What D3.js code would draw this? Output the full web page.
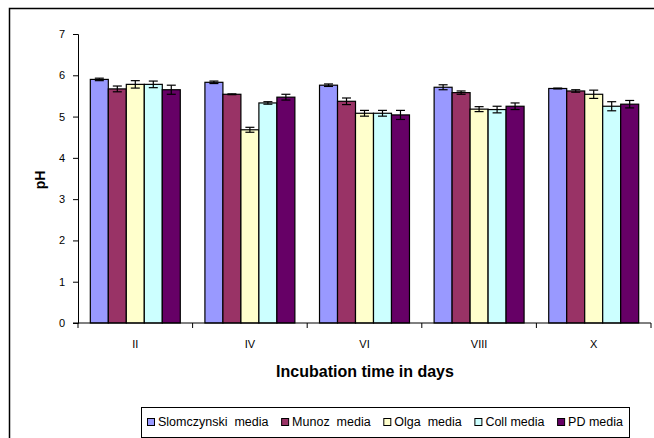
<!DOCTYPE html>
<html><head><meta charset="utf-8">
<script src="https://cdn.jsdelivr.net/npm/d3@7"></script>
<style>
body{margin:0;background:#fff;}
text{font-family:"Liberation Sans",Arial,sans-serif;fill:#000;}
</style></head>
<body><svg id="c" width="654" height="438"></svg>
<script>
const categories = ["II","IV","VI","VIII","X"];
const seriesNames = ["Slomczynski  media","Munoz  media","Olga  media","Coll media","PD media"];
const seriesColors = ["#9999FF","#993366","#FFFFCC","#CCFFFF","#660066"];
const slomczynski = [5.90,5.83,5.76,5.71,5.68];
const munoz       = [5.67,5.54,5.37,5.58,5.62];
const olga        = [5.78,4.68,5.08,5.18,5.54];
const coll        = [5.78,5.33,5.08,5.17,5.25];
const pd          = [5.65,5.47,5.04,5.25,5.30];
const slomErr  = [0.03,0.03,0.03,0.06,0.01];
const munozErr = [0.07,0.01,0.08,0.04,0.03];
const olgaErr  = [0.09,0.06,0.07,0.06,0.10];
const collErr  = [0.08,0.03,0.07,0.08,0.11];
const pdErr    = [0.11,0.07,0.11,0.08,0.09];
const yTicks = [0,1,2,3,4,5,6,7];

const values = [slomczynski,munoz,olga,coll,pd];
const errors = [slomErr,munozErr,olgaErr,collErr,pdErr];

const svg = d3.select("#c");
const L=78,R=651,T=34,B=323;

svg.append("rect").attr("x",9.5).attr("y",8.5).attr("width",660).attr("height",440)
  .attr("fill","none").attr("stroke","#000").attr("stroke-width",1.5);

const x0 = d3.scaleBand().domain(categories).range([L,R]).paddingInner(0.215).paddingOuter(0.1075);
const x1 = d3.scaleBand().domain(d3.range(seriesNames.length)).range([0,x0.bandwidth()]);
const y = d3.scaleLinear().domain([0,7]).range([B,T]);

// axes
const yAxis = svg.append("g").attr("transform",`translate(${L},0)`)
  .call(d3.axisLeft(y).tickValues(yTicks).tickSize(5).tickPadding(8).tickFormat(d3.format("d")));
yAxis.select(".domain").attr("stroke","#000");
yAxis.selectAll("text").attr("font-size","11px");

const groups = svg.append("g");
categories.forEach((c,ci)=>{
  values.forEach((arr,si)=>{
    const v = arr[ci], e = errors[si][ci];
    const bx = x0(c)+x1(si), bw = x1.bandwidth();
    groups.append("rect").attr("x",bx).attr("y",y(v)).attr("width",bw).attr("height",y(0)-y(v))
      .attr("fill",seriesColors[si]).attr("stroke","#000").attr("stroke-width",1.2);
    const cx = bx+bw/2;
    const eg = groups.append("g").attr("stroke","#000").attr("stroke-width",1.2);
    eg.append("line").attr("x1",cx).attr("x2",cx).attr("y1",y(v+e)).attr("y2",y(v-e));
    eg.append("line").attr("x1",cx-4.5).attr("x2",cx+4.5).attr("y1",y(v+e)).attr("y2",y(v+e));
    eg.append("line").attr("x1",cx-4.5).attr("x2",cx+4.5).attr("y1",y(v-e)).attr("y2",y(v-e));
  });
});

// x axis
const xg = svg.append("g");
xg.append("line").attr("x1",L-5).attr("x2",R).attr("y1",B).attr("y2",B).attr("stroke","#000");
const step = x0.step();
d3.range(categories.length+1).forEach(i=>{
  const xx = L + i*step;
  xg.append("line").attr("x1",xx).attr("x2",xx).attr("y1",B).attr("y2",B+5).attr("stroke","#000");
});
categories.forEach(c=>{
  xg.append("text").attr("x",x0(c)+x0.bandwidth()/2).attr("y",B+25).attr("text-anchor","middle")
    .attr("font-size","11px").text(c);
});

svg.append("text").attr("x",365).attr("y",377).attr("text-anchor","middle")
  .attr("font-size","16px").attr("font-weight","bold").text("Incubation time in days");
svg.append("text").attr("transform","translate(45,180) rotate(-90)").attr("text-anchor","middle")
  .attr("font-size","14px").attr("font-weight","bold").text("pH");

// legend
const lg = svg.append("g");
const lgL=141, lgR=629, lgT=407, lgB=437;
lg.append("rect").attr("x",lgL+0.5).attr("y",lgT+0.5).attr("width",lgR-lgL).attr("height",lgB-lgT)
  .attr("fill","#fff").attr("stroke","#000");
const texts = seriesNames.map((n,i)=>{
  return lg.append("text").attr("font-size","12.5px").style("white-space","pre").attr("y",lgT+19).text(n);
});
const widths = texts.map(t=>t.node().getComputedTextLength());
const sq=7, sqGap=4;
const inner = (lgR-lgL) - 12;
const used = d3.sum(widths) + seriesNames.length*(sq+sqGap);
const gap = (inner-used)/(seriesNames.length-1);
let cx = lgL+6;
seriesNames.forEach((n,i)=>{
  lg.append("rect").attr("x",cx+0.5).attr("y",lgT+11.5).attr("width",sq).attr("height",sq)
    .attr("fill",seriesColors[i]).attr("stroke","#000");
  texts[i].attr("x",cx+sq+sqGap);
  cx += sq+sqGap+widths[i]+gap;
});
</script></body></html>
